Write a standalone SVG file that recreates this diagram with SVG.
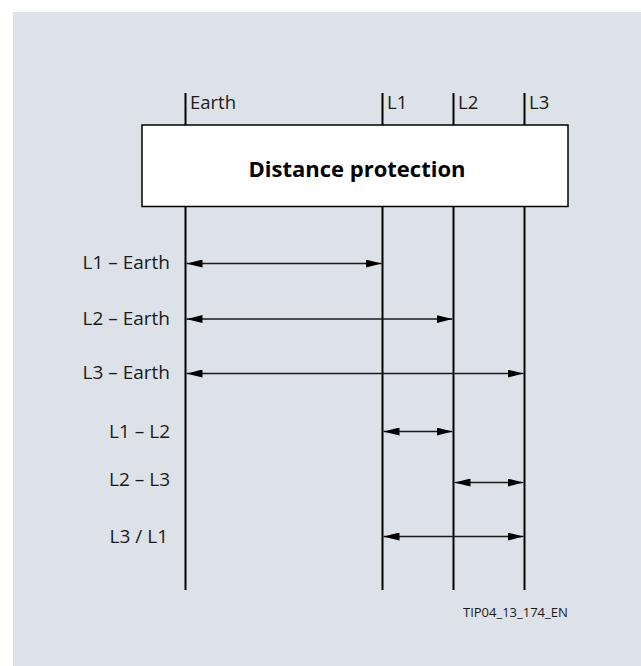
<svg xmlns="http://www.w3.org/2000/svg" width="641" height="666" viewBox="0 0 641 666">
<style>
.t{font-family:"Open Sans","Noto Sans",sans-serif;font-size:19px;fill:#1a1a1a}
.h{font-family:"Open Sans","Noto Sans",sans-serif;font-size:18.5px;fill:#1a1a1a}
.b{font-family:"Open Sans","Noto Sans",sans-serif;font-size:22px;font-weight:bold;fill:#000}
.s{font-family:"Open Sans","Noto Sans",sans-serif;font-size:13px;fill:#1a1a1a}
.v{stroke:#000;stroke-width:2;fill:none}
.a{stroke:#1a1a1a;stroke-width:1.6;fill:none;marker-start:url(#ah);marker-end:url(#ah)}
</style>
<defs>
<marker id="ah" viewBox="0 0 16 8" refX="16" refY="4" markerWidth="16" markerHeight="8" markerUnits="userSpaceOnUse" orient="auto-start-reverse">
<path d="M0,0 L16,4 L0,8 Z" fill="#000"/>
</marker>
</defs>
<rect x="0" y="0" width="641" height="666" fill="#fff"/>
<rect x="13" y="12" width="628" height="654" fill="#dde1e8"/>
<g id="conductors">
<line class="v" x1="185.5" y1="93" x2="185.5" y2="590"/>
<line class="v" x1="382.5" y1="93" x2="382.5" y2="590"/>
<line class="v" x1="453.5" y1="93" x2="453.5" y2="590"/>
<line class="v" x1="524.5" y1="93" x2="524.5" y2="590"/>
<text class="h" x="190" y="109">Earth</text>
<text class="h" x="387" y="109">L1</text>
<text class="h" x="458" y="109">L2</text>
<text class="h" x="529" y="109">L3</text>
</g>
<g id="box">
<rect x="142" y="125" width="426" height="81.5" fill="#fff" stroke="#000" stroke-width="1.5"/>
<text class="b" x="357" y="177" text-anchor="middle">Distance protection</text>
</g>
<g id="connectors">
<line class="a" x1="186.5" y1="263.5" x2="381.5" y2="263.5"/>
<line class="a" x1="186.5" y1="319" x2="452.5" y2="319"/>
<line class="a" x1="186.5" y1="373.5" x2="523.5" y2="373.5"/>
<line class="a" x1="383.5" y1="431.5" x2="452.5" y2="431.5"/>
<line class="a" x1="454.5" y1="482.5" x2="523.5" y2="482.5"/>
<line class="a" x1="383.5" y1="536.5" x2="523.5" y2="536.5"/>
</g>
<g id="labels">
<text class="t" x="170" y="269" text-anchor="end">L1 – Earth</text>
<text class="t" x="170" y="325" text-anchor="end">L2 – Earth</text>
<text class="t" x="170" y="379" text-anchor="end">L3 – Earth</text>
<text class="t" x="170" y="438" text-anchor="end">L1 – L2</text>
<text class="t" x="170" y="486" text-anchor="end">L2 – L3</text>
<text class="t" x="168" y="543" text-anchor="end">L3 / L1</text>
<text class="s" x="463" y="617">TIP04_13_174_EN</text>
</g>
</svg>
